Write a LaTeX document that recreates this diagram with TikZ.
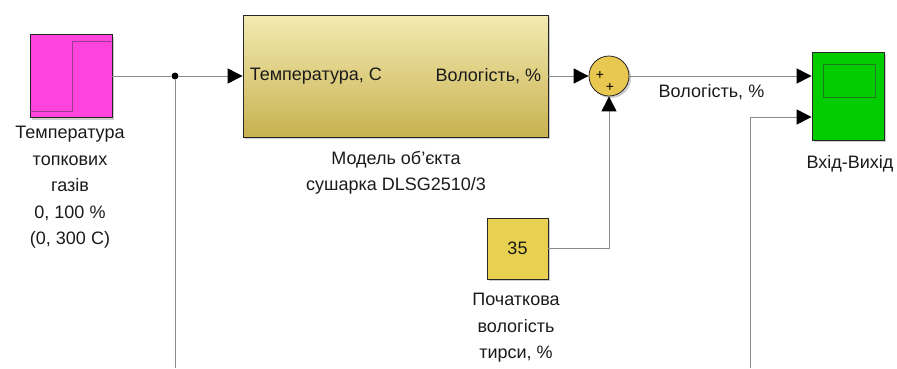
\documentclass[tikz,border=0pt]{standalone}
\usepackage{fontspec}
\setmainfont{Liberation Sans}
\usetikzlibrary{arrows.meta,shadows}

\definecolor{wiregray}{HTML}{8A8A8A}
\definecolor{textgray}{HTML}{1A1A1A}
\definecolor{stepfill}{HTML}{FF44DD}
\definecolor{stepline}{HTML}{9A3A90}
\definecolor{modeltop}{HTML}{F3EAB2}
\definecolor{modelmid}{HTML}{E8DA92}
\definecolor{modelbot}{HTML}{C8B250}
\definecolor{sumfill}{HTML}{E8C850}
\definecolor{constfill}{HTML}{E8D050}
\definecolor{scopefill}{HTML}{00CC00}
\definecolor{scopeline}{HTML}{1F7A1F}

\begin{document}
\begin{tikzpicture}[x=1pt,y=-1pt,
  wire/.style={draw=wiregray, line width=1pt},
  sig/.style={wire, -{Triangle[length=15pt,width=15pt,color=black]}},
  blk/.style={draw=black!85, line width=0.8pt, minimum width=#1, inner sep=0pt,
    drop shadow={shadow xshift=2pt,shadow yshift=-2pt,fill=black!40,opacity=0.5}},
  lbl/.style={font=\fontsize{18}{26.5}\selectfont, text=textgray, align=center, inner sep=0pt},
  port/.style={font=\fontsize{18}{20}\selectfont, text=textgray, inner sep=0pt},
]
% Frame
\useasboundingbox (0,0) rectangle (897,368);

% Blocks
\node[blk=82pt, minimum height=83pt, fill=stepfill] (step) at (71,76) {};
\draw[stepline, line width=1pt] (30,111) -- (72,111) -- (72,41) -- (111,41); % step shape
\node[blk=305pt, minimum height=122pt, top color=modeltop, middle color=modelmid, bottom color=modelbot] (model) at (395.5,76) {};
\node[port, anchor=west] (modelin) at ([xshift=7pt]model.west) {Температура, С};
\node[port, anchor=east] (modelout) at ([xshift=-7pt]model.east) {Вологість, \%};
\node[blk=40pt, circle, fill=sumfill] (sum) at (609,76) {};
\node[font=\fontsize{14}{14}\selectfont, inner sep=0pt] (plusa) at (600,75) {+};
\node[font=\fontsize{14}{14}\selectfont, inner sep=0pt] (plusb) at (610,87) {+};
\node[blk=61pt, minimum height=61pt, fill=constfill, font=\fontsize{18}{20}\selectfont, text=textgray] (const) at (517.5,248.5) {35};
\node[blk=72pt, minimum height=88pt, fill=scopefill] (scope) at (848,96) {};
\draw[scopeline, line width=0.8pt] (823,64) rectangle (875,97); % scope screen

% Labels
\node[lbl, anchor=north] (steplbl) at (70,126) {Температура\\топкових\\газів\\0, 100 \%\\(0, 300 С)};
\node[lbl, anchor=north] (modellbl) at (396,151) {Модель об'єкта\\сушарка DLSG2510/3};
\node[lbl, anchor=north] (constlbl) at (516,293) {Початкова\\вологість\\тирси, \%};
\node[lbl, anchor=north] (scopelbl) at (850,155) {Вхід-Вихід};

% Wires
\node[circle, fill=black, inner sep=0pt, minimum size=7pt] (split) at (175,76) {};
\coordinate (splitend) at (175,368);
\coordinate (scopetap) at (750,117);
\coordinate (scopeend) at (750,368);
\draw[wire] (step.east) -- (split);
\draw[sig] (split) -- (model.west);
\draw[wire] (split) -- (splitend);
\draw[sig] (model.east) -- (sum.west);
\draw[sig] (sum.east) -- node[lbl, below=8pt, xshift=-9pt] (sumlbl) {Вологість, \%} ([yshift=20pt]scope.west);
\draw[sig] (const.east) -| (sum.south);
\draw[sig] (scopeend) -- (scopetap) -- ([yshift=-21pt]scope.west);
\end{tikzpicture}
\end{document}
